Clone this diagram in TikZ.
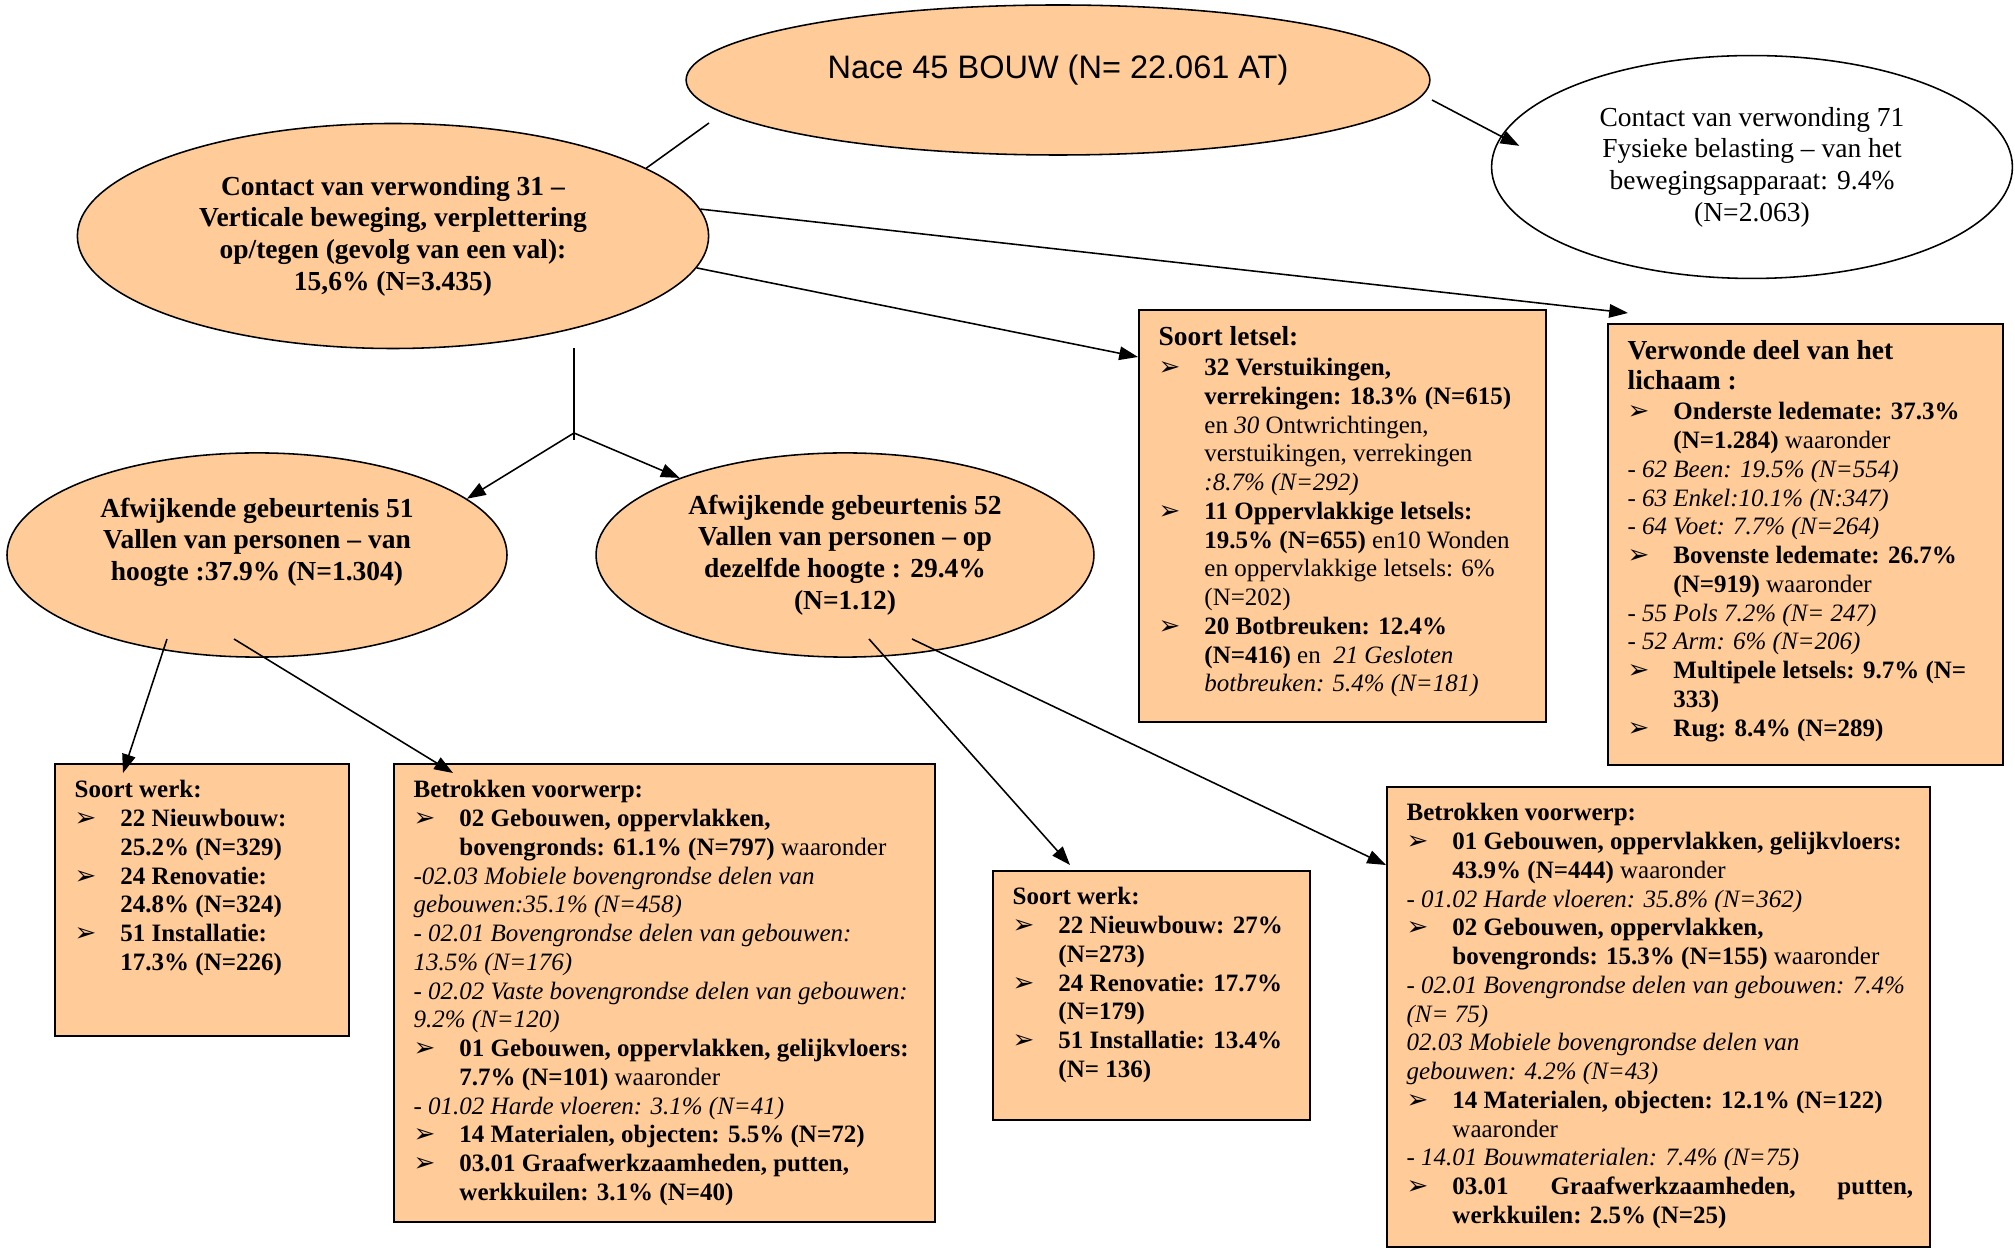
\documentclass[tikz,border=0pt]{standalone}
\usepackage{fontspec}
\setmainfont{Liberation Serif}
\newfontfamily\arialfont{Liberation Sans}
\newfontfamily\dingfont{DejaVu Sans}
\usetikzlibrary{arrows.meta,calc,shapes.geometric}
\definecolor{peach}{HTML}{FFCC99}
\newcommand{\arrowbul}{{\dingfont\fontsize{12.5}{10}\selectfont ➢}}
\newcommand{\itm}[1]{\par\noindent\hangindent=22pt\hangafter=1\makebox[22pt][l]{\arrowbul}#1\par}
\newcommand{\subln}[1]{\par\noindent\textit{#1}\par}
\newcommand{\bighead}[1]{{\fontsize{13.2}{14.5}\selectfont\textbf{#1}\par}\vspace{0.6pt}}
\newcommand{\boxbody}[3]{\parbox[t][\dimexpr 0.48pt*#2-16pt\relax][t]{\dimexpr 0.48pt*#1\relax}{\fontsize{12}{13.8}\selectfont\raggedright\leftskip=9.5pt\relax #3}}

\begin{document}
\begin{tikzpicture}[x=0.48pt,y=-0.48pt]
\tikzset{edge/.style = {-, line width=0.75pt}}
\tikzset{arrow/.style = {-{Triangle[length=9pt,width=6.5pt]}, line width=0.75pt}}
\tikzset{oval/.style = {shape=ellipse, draw, fill=peach, line width=0.75pt, inner sep=0pt, align=center, font=\fontsize{13.2}{15.2}\selectfont\bfseries}}
\tikzset{box/.style = {draw, fill=peach, line width=0.8pt, anchor=north west, inner xsep=0pt, inner ysep=8pt}}
\useasboundingbox (0,0) rectangle (2015,1249);
\node[oval, minimum width=357pt, minimum height=72pt, font=\arialfont\fontsize{15.6}{18}\selectfont](nace) at (1058,80) {\raisebox{13pt}{Nace 45 BOUW (N= 22.061 AT)}};
\node[oval, minimum width=303pt, minimum height=108pt](c31) at (393,236) {Contact van verwonding 31 –\\ Verticale beweging, verplettering\\ op/tegen (gevolg van een val):\\ 15,6\% (N=3.435)};
\node[oval, fill=white, minimum width=250pt, minimum height=107pt, font=\fontsize{13.2}{15.2}\selectfont](c71) at (1752,167) {Contact van verwonding 71\\ Fysieke belasting – van het\\ bewegingsapparaat: 9.4\%\\ (N=2.063)};
\node[oval, minimum width=240pt, minimum height=98pt, inner ysep=-6pt](afw51) at (257,555) {Afwijkende gebeurtenis 51\\ Vallen van personen – van\\ hoogte :37.9\% (N=1.304)\\ ~};
\node[oval, minimum width=239pt, minimum height=98pt](afw52) at (845,555) {Afwijkende gebeurtenis 52\\ Vallen van personen – op\\ dezelfde hoogte : 29.4\%\\ (N=1.12)};
\node[box](letsel) at (1138,309) {\boxbody{407}{412}{\bighead{Soort letsel:}
\itm{\textbf{32 Verstuikingen,\newline verrekingen: 18.3\% (N=615)}\newline en \textit{30} Ontwrichtingen,\newline verstuikingen, verrekingen\newline \textit{:8.7\% (N=292)}}
\itm{\textbf{11 Oppervlakkige letsels:\newline 19.5\% (N=655)} en10 Wonden\newline en oppervlakkige letsels: 6\%\newline (N=202)}
\itm{\textbf{20 Botbreuken: 12.4\%\newline (N=416)} en \ \textit{21 Gesloten\newline botbreuken: 5.4\% (N=181)}}}};
\node[box](verw) at (1607,323) {\boxbody{395}{441}{\bighead{Verwonde deel van het\newline lichaam :}
\itm{\textbf{Onderste ledemate: 37.3\%\newline (N=1.284)} waaronder}
\subln{- 62 Been: 19.5\% (N=554)}
\subln{- 63 Enkel:10.1\% (N:347)}
\subln{- 64 Voet: 7.7\% (N=264)}
\itm{\textbf{Bovenste ledemate: 26.7\%\newline (N=919)} waaronder}
\subln{- 55 Pols 7.2\% (N= 247)}
\subln{- 52 Arm: 6\% (N=206)}
\itm{\textbf{Multipele letsels: 9.7\% (N=\newline 333)}}
\itm{\textbf{Rug: 8.4\% (N=289)}}}};
\node[box](werkL) at (54,763) {\boxbody{294}{272}{\textbf{Soort werk:}
\itm{\textbf{22 Nieuwbouw:\newline 25.2\% (N=329)}}
\itm{\textbf{24 Renovatie:\newline 24.8\% (N=324)}}
\itm{\textbf{51 Installatie:\newline 17.3\% (N=226)}}}};
\node[box](betrL) at (393,763) {\boxbody{541}{458}{\textbf{Betrokken voorwerp:}
\itm{\textbf{02 Gebouwen, oppervlakken,\newline bovengronds: 61.1\% (N=797)} waaronder}
\subln{-02.03 Mobiele bovengrondse delen van\newline gebouwen:35.1\% (N=458)}
\subln{- 02.01 Bovengrondse delen van gebouwen:\newline 13.5\% (N=176)}
\subln{- 02.02 Vaste bovengrondse delen van gebouwen:\newline 9.2\% (N=120)}
\itm{\textbf{01 Gebouwen, oppervlakken, gelijkvloers:\newline 7.7\% (N=101)} waaronder}
\subln{- 01.02 Harde vloeren: 3.1\% (N=41)}
\itm{\textbf{14 Materialen, objecten: 5.5\% (N=72)}}
\itm{\textbf{03.01 Graafwerkzaamheden, putten,\newline werkkuilen: 3.1\% (N=40)}}}};
\node[box](werkM) at (992,870) {\boxbody{317}{249}{\textbf{Soort werk:}
\itm{\textbf{22 Nieuwbouw: 27\%\newline (N=273)}}
\itm{\textbf{24 Renovatie: 17.7\%\newline (N=179)}}
\itm{\textbf{51 Installatie: 13.4\%\newline (N= 136)}}}};
\node[box](betrR) at (1386,786) {\boxbody{543}{460}{\textbf{Betrokken voorwerp:}
\itm{\textbf{01 Gebouwen, oppervlakken, gelijkvloers:\newline 43.9\% (N=444)} waaronder}
\subln{- 01.02 Harde vloeren: 35.8\% (N=362)}
\itm{\textbf{02 Gebouwen, oppervlakken,\newline bovengronds: 15.3\% (N=155)} waaronder}
\subln{- 02.01 Bovengrondse delen van gebouwen: 7.4\%\newline (N= 75)}
\subln{02.03 Mobiele bovengrondse delen van\newline gebouwen: 4.2\% (N=43)}
\itm{\textbf{14 Materialen, objecten: 12.1\% (N=122)}\newline waaronder}
\subln{- 14.01 Bouwmaterialen: 7.4\% (N=75)}
\itm{\textbf{03.01\hfill Graafwerkzaamheden,\hfill putten,\kern8pt\newline werkkuilen: 2.5\% (N=25)}}}};
\coordinate (nacefoot) at (709,123);
\coordinate (nacetip) at (1432,100);
\coordinate (forktop) at (574,348);
\coordinate (fork) at (574,433);
\coordinate (forkend) at (574,440);
\coordinate (a51left) at (167,639);
\coordinate (a51right) at (234,639);
\coordinate (a52left) at (869,639);
\coordinate (a52right) at (912,639);
\draw[edge] (nacefoot) to (c31.15);
\draw[arrow, shorten >=-10pt] (nacetip) to (c71.173);
\draw[arrow] (c31.354) to ($(letsel.north west)+(0,48)$);
\draw[arrow] (c31.5) to ($(verw.north west)+(21,-10)$);
\draw[edge] (forktop) to (forkend);
\draw[arrow] (fork) to (afw51.15);
\draw[arrow] (fork) to (afw52.155);
\draw[arrow] (a51left) to ($(werkL.north west)+(69,10)$);
\draw[arrow] (a51right) to ($(betrL.north west)+(60,10)$);
\draw[arrow] (a52left) to ($(werkM.north west)+(78,-5)$);
\draw[arrow] (a52right) to ($(betrR.north west)+(0,79)$);
\end{tikzpicture}
\end{document}
